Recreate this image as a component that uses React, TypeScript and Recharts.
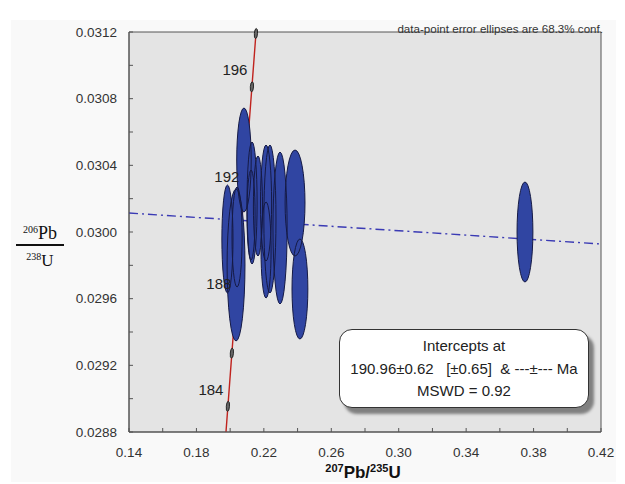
import React from "react";
import {
	CartesianGrid,
	ComposedChart,
	Line,
	ReferenceArea,
	Scatter,
	XAxis,
	YAxis,
} from "recharts";

// measured analyses (207Pb/235U, 206Pb/238U) and their 1-sigma half axes
const spotX = [0.2035, 0.1984, 0.2041, 0.2082, 0.213, 0.2124, 0.2165, 0.2213, 0.2213, 0.2236, 0.2296, 0.2385, 0.2414, 0.3749];
const spotY = [0.029802, 0.029958, 0.02997, 0.030432, 0.030174, 0.030102, 0.030156, 0.030174, 0.029892, 0.030078, 0.030024, 0.030174, 0.029658, 0.03];
const errX = [0.0053, 0.0033, 0.003, 0.0043, 0.003, 0.0024, 0.0027, 0.0033, 0.003, 0.0036, 0.0042, 0.0059, 0.0047, 0.0047];
const errY = [0.000456, 0.000324, 0.0003, 0.000312, 0.000366, 0.00027, 0.0003, 0.000348, 0.000288, 0.000444, 0.000456, 0.000318, 0.0003, 0.0003];

// concordia (Ma) and its ratios
const concAge = [183.03, 184, 186, 188, 190, 192, 194, 196, 198, 198.06];
const concX = [0.19753, 0.19867, 0.20103, 0.2034, 0.20577, 0.20815, 0.21053, 0.21292, 0.21531, 0.21538];
const concY = [0.0288, 0.028954, 0.029273, 0.029592, 0.029912, 0.030232, 0.030552, 0.030871, 0.031191, 0.0312];
const labelAges = [184, 188, 192, 196];

// regression line end points
const regX = [0.14, 0.42];
const regY = [0.030114, 0.029928];

const xTicks = [0.14, 0.16, 0.18, 0.2, 0.22, 0.24, 0.26, 0.28, 0.3, 0.32, 0.34, 0.36, 0.38, 0.4, 0.42];
const yTicks = [0.0288, 0.029, 0.0292, 0.0294, 0.0296, 0.0298, 0.03, 0.0302, 0.0304, 0.0306, 0.0308, 0.031, 0.0312];

const W = 625;
const H = 484;
const margin = { top: 32, right: 24, bottom: 22, left: 0 };
const yAxisW = 129;
const xAxisH = 30;
const xDomain: [number, number] = [0.14, 0.42];
const yDomain: [number, number] = [0.0288, 0.0312];
const pxX = (W - margin.left - margin.right - yAxisW) / (xDomain[1] - xDomain[0]);
const pxY = (H - margin.top - margin.bottom - xAxisH) / (yDomain[1] - yDomain[0]);

const spots = spotX.map((x, i) => ({ x, y: spotY[i], sx: errX[i], sy: errY[i] }));
const concordia = concAge.map((age, i) => ({ age, x: concX[i], y: concY[i] }));
const markers = concordia.filter((d) => Number.isInteger(d.age));
const ageLabels = markers.filter((d) => labelAges.includes(d.age));
const regression = regX.map((x, i) => ({ x, y: regY[i] }));

const FONT = "'Liberation Sans', Arial, sans-serif";
const FILL = "#3045a2";
const EDGE = "#151a45";

const SpotFill = (p: any) => (
	<ellipse cx={p.cx} cy={p.cy} rx={p.payload.sx * pxX} ry={p.payload.sy * pxY} fill={FILL} stroke='none' />
);
const SpotEdge = (p: any) => (
	<ellipse cx={p.cx} cy={p.cy} rx={p.payload.sx * pxX} ry={p.payload.sy * pxY} fill='none' stroke={EDGE} strokeWidth={1} />
);
const AgeMarker = (p: any) => (
	<ellipse cx={p.cx} cy={p.cy} rx={1.6} ry={5} fill='#666' stroke='#111' strokeWidth={0.8} transform={`rotate(4.5 ${p.cx} ${p.cy})`} />
);
const AgeLabel = (p: any) => (
	<text x={p.cx - 17} y={p.cy - 17} textAnchor='middle' dominantBaseline='central' fontFamily={FONT} fontSize={15} fill='#222'>
		{p.payload.age}
	</text>
);

export default function App() {
	return (
		<div style={{ position: "absolute", left: 0, top: 0, width: W, height: H, background: "#fff", overflow: "hidden" }}>
			<div style={{ position: "absolute", left: 11, top: 20, width: 605, height: 462, background: "#f9f9f9" }} />
			<div style={{ position: "absolute", left: 0, top: 0 }}>
				<ComposedChart width={W} height={H} margin={margin}>
					<CartesianGrid horizontal={false} vertical={false} fill='#e4e4e4' />
					<XAxis
						dataKey='x'
						type='number'
						domain={xDomain}
						ticks={xTicks}
						height={xAxisH}
						tickSize={-4}
						tickMargin={19}
						interval={0}
						stroke='#555'
						tick={{ fontSize: 13.5, fill: "#333", fontFamily: FONT }}
						tickFormatter={(v: number) => (Math.round(v * 100) - 14) % 4 === 0 ? v.toFixed(2) : ""}
					/>
					<YAxis
						dataKey='y'
						type='number'
						domain={yDomain}
						ticks={yTicks}
						width={yAxisW}
						tickSize={-4}
						tickMargin={16}
						interval={0}
						stroke='#555'
						tick={{ fontSize: 13.5, fill: "#333", fontFamily: FONT }}
						tickFormatter={(v: number) => Math.round(v * 10000) % 4 === 0 ? v.toFixed(4) : ""}
					/>
					<ReferenceArea x1={xDomain[0]} x2={xDomain[1]} y1={yDomain[0]} y2={yDomain[1]} fill='none' stroke='#555' strokeWidth={1} />
					<Line data={regression} dataKey='y' stroke='#3a3ab4' strokeWidth={1.4} strokeDasharray='9 4 2 4' dot={false} isAnimationActive={false} />
					<Line data={concordia} dataKey='y' stroke='#c0231e' strokeWidth={1.4} dot={false} isAnimationActive={false} />
					<Scatter data={markers} dataKey='y' shape={AgeMarker} isAnimationActive={false} />
					<Scatter data={spots} dataKey='y' shape={SpotFill} isAnimationActive={false} />
					<Scatter data={spots} dataKey='y' shape={SpotEdge} isAnimationActive={false} />
					<Scatter data={ageLabels} dataKey='y' shape={AgeLabel} isAnimationActive={false} />
				</ComposedChart>
			</div>

			<div style={{ position: "absolute", right: W - 603, top: 22, fontFamily: FONT, fontSize: 11.6, color: "#333", whiteSpace: "nowrap" }}>
				data-point error ellipses are 68.3% conf.
			</div>

			<div style={{ position: "absolute", left: 16, top: 220, width: 48, textAlign: "center", fontFamily: "'Liberation Serif', 'Times New Roman', serif", color: "#111" }}>
				<div style={{ fontSize: 18, lineHeight: "20px", borderBottom: "2px solid #111", paddingBottom: 1 }}>
					<span style={{ fontSize: 10, verticalAlign: "6px" }}>206</span>Pb
				</div>
				<div style={{ fontSize: 17, lineHeight: "22px" }}>
					<span style={{ fontSize: 10, verticalAlign: "6px" }}>238</span>U
				</div>
			</div>

			<div style={{ position: "absolute", left: 298, width: 130, top: 459, textAlign: "center", fontFamily: FONT, fontWeight: "bold", fontSize: 17, lineHeight: "18px", color: "#111", whiteSpace: "nowrap" }}>
				<span style={{ fontSize: 11, verticalAlign: "6px" }}>207</span>Pb/<span style={{ fontSize: 11, verticalAlign: "6px" }}>235</span>U
			</div>

			<div
				style={{
					position: "absolute",
					left: 339,
					top: 329,
					width: 250,
					height: 79,
					boxSizing: "border-box",
					border: "1px solid #333",
					borderRadius: 13,
					background: "#fff",
					boxShadow: "5px 6px 3px #808080",
					fontFamily: FONT,
					fontSize: 15,
					color: "#222",
					textAlign: "center",
					lineHeight: "22.5px",
					paddingTop: 5,
					whiteSpace: "pre",
				}}>
				<div>Intercepts at</div>
				<div>{"190.96±0.62   [±0.65]  & ---±--- Ma"}</div>
				<div>MSWD = 0.92</div>
			</div>
		</div>
	);
}
